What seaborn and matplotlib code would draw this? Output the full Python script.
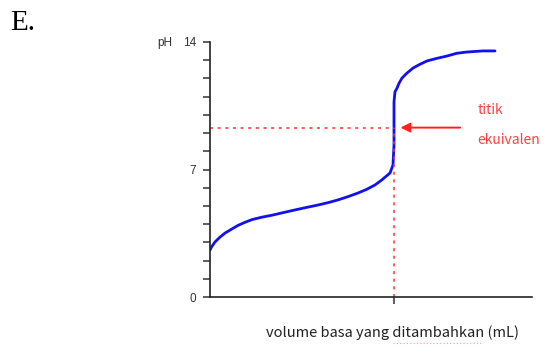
import matplotlib
matplotlib.use("Agg")
import matplotlib.pyplot as plt
import seaborn as sns
import pandas as pd

# Titration curve: volume of base added (mL) vs pH
volume = [0.0, 0.18, 0.54, 1.09, 1.63, 2.36, 3.04, 3.80, 4.57, 5.62,
          6.74, 7.93, 9.24, 10.51, 11.74, 12.83, 13.91, 15.0, 16.09,
          17.03, 17.93, 18.66, 19.57, 19.89, 20.0, 20.0, 20.0, 20.11,
          20.33, 20.54, 20.87, 21.38, 22.07, 22.83, 23.59, 24.64, 25.76,
          26.82, 27.93, 29.67, 30.98]
ph = [2.58, 2.76, 3.02, 3.29, 3.51, 3.73, 3.93, 4.10, 4.25, 4.38,
      4.49, 4.63, 4.78, 4.92, 5.05, 5.18, 5.33, 5.51, 5.71,
      5.91, 6.15, 6.42, 6.81, 7.25, 8.35, 9.62, 10.71, 11.27,
      11.47, 11.73, 12.02, 12.28, 12.57, 12.78, 12.96, 13.10, 13.23,
      13.38, 13.45, 13.51, 13.51]

equiv_volume = 20.0
equiv_ph = 9.3
ytick_labels = [0, 7, 14]
x_label = "volume basa yang ditambahkan (mL)"
panel_tag = "E."

df = pd.DataFrame({"volume": volume, "pH": ph})

sns.set_style("white")
plt.rcParams["font.family"] = ["Liberation Sans", "DejaVu Sans"]
label_font = ["Noto Sans CJK JP", "DejaVu Sans"]

fig = plt.figure(figsize=(5.49, 3.46), dpi=100)
ax = fig.add_axes([210 / 549, 49 / 346, 322 / 549, 255 / 346])

sns.lineplot(data=df, x="volume", y="pH", ax=ax, color="#1010f0",
             linewidth=2.0, estimator=None, sort=False)

ax.set_xlim(0, 35)
ax.set_ylim(0, 14)

# guide lines to the equivalence point
ax.plot([0, equiv_volume], [equiv_ph, equiv_ph], color="#ff3030",
        linestyle=(0, (2, 3)), linewidth=1.1)
ax.plot([equiv_volume, equiv_volume], [0, equiv_ph], color="#ff3030",
        linestyle=(0, (2, 3)), linewidth=1.1)

# arrow pointing at the equivalence point
ax.annotate("", xy=(equiv_volume + 0.4, equiv_ph), xytext=(27.5, equiv_ph),
            arrowprops=dict(arrowstyle="-|>", color="#ff2020", lw=1.4,
                            mutation_scale=14))
ax.text(29.1, equiv_ph + 0.95, "titik", color="#ff4040", fontsize=10,
        ha="left", va="center", family=label_font)
ax.text(29.0, equiv_ph - 0.7, "ekuivalen", color="#ff4040", fontsize=10,
        ha="left", va="center", clip_on=False, family=label_font)

for side in ("top", "right"):
    ax.spines[side].set_visible(False)
for side in ("left", "bottom"):
    ax.spines[side].set_color("#222222")
    ax.spines[side].set_linewidth(1.2)

ax.set_yticks(ytick_labels)
ax.set_yticklabels([str(v) for v in ytick_labels])
ax.set_yticks(range(0, 15), minor=True)
ax.tick_params(axis="y", which="both", direction="out", length=5,
               width=1.1, color="#333333", left=True, labelsize=8.5,
               labelcolor="#333333", pad=5)
ax.set_xticks([equiv_volume])
ax.set_xticklabels([""])
ax.tick_params(axis="x", direction="out", length=5, width=1.1,
               color="#333333", bottom=True)

ax.set_xlabel("")
ax.set_ylabel("")
ax.grid(False)

fig.text(157 / 549, 1 - 43 / 346, "pH", fontsize=8.5, color="#333333",
         ha="left", va="center")
fig.text(392 / 549, 1 - 333 / 346, x_label, fontsize=10.5, color="#222222",
         ha="center", va="center", family=label_font)
# dotted spell-check underline beneath one word of the label
fig.lines.append(plt.Line2D([393 / 549, 483 / 549], [1 - 343 / 346, 1 - 343 / 346],
                            transform=fig.transFigure, color="#f4a0a0",
                            linestyle=(0, (1, 2)), linewidth=0.8))
fig.text(10 / 549, 1 - 23 / 346, panel_tag, fontsize=21, color="black",
         ha="left", va="center", family=["Liberation Serif", "DejaVu Serif"])

fig.savefig("out.png", dpi=100)
